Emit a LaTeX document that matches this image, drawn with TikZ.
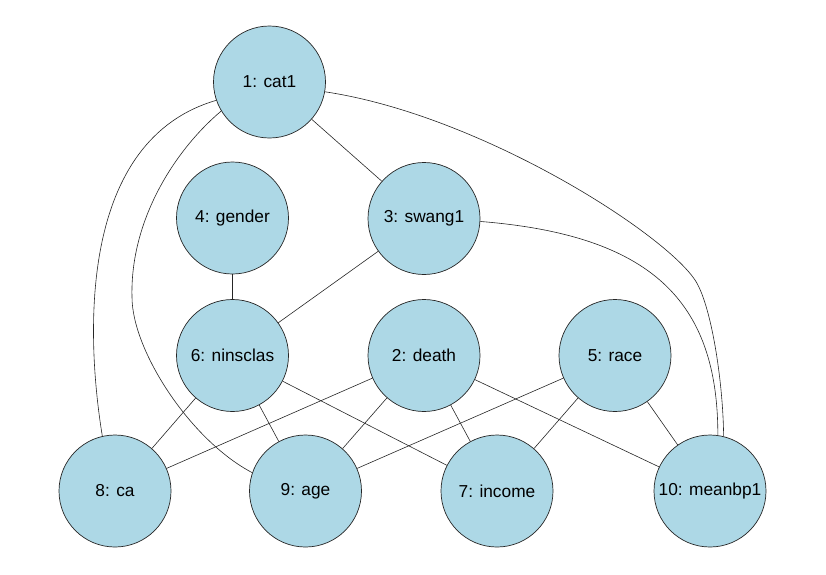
\documentclass[tikz,border=0pt]{standalone}
\usepackage{fontspec}
\setmainfont{Liberation Sans}
\definecolor{nodeblue}{RGB}{173,216,230}
\begin{document}
\begin{tikzpicture}[x=1pt,y=-1pt,
  vnode/.style={circle,draw=black!85,line width=0.7pt,fill=nodeblue,minimum size=112pt,inner sep=0pt,font=\fontsize{17.3}{20}\selectfont},
  edge/.style={draw=black!85,line width=0.6pt}]
\useasboundingbox (0,0) rectangle (826,574);
\node[vnode] (n1) at (269.5,82) {1: cat1};
\node[vnode] (n4) at (232.5,218) {4: gender};
\node[vnode] (n3) at (424,218.5) {3: swang1};
\node[vnode] (n6) at (232.5,355.5) {6: ninsclas};
\node[vnode] (n2) at (424,355.5) {2: death};
\node[vnode] (n5) at (615,355.5) {5: race};
\node[vnode] (n8) at (115,491) {8: ca};
\node[vnode] (n9) at (305.5,491) {9: age};
\node[vnode] (n7) at (497,491) {7: income};
\node[vnode] (n10) at (710,491) {10: meanbp1};
% straight edges
\draw[edge] (n1) -- (n3);
\draw[edge] (n4) -- (n6);
\draw[edge] (n3) -- (n6);
\draw[edge] (n6) -- (n8);
\draw[edge] (n6) -- (n9);
\draw[edge] (n6) -- (n7);
\draw[edge] (n2) -- (n8);
\draw[edge] (n2) -- (n9);
\draw[edge] (n2) -- (n7);
\draw[edge] (n2) -- (n10);
\draw[edge] (n5) -- (n9);
\draw[edge] (n5) -- (n7);
\draw[edge] (n5) -- (n10);
% curved edges
\coordinate (m19) at (132,297);
\coordinate (m110) at (695,280);
\draw[edge] (n1.199) .. controls (80,140) and (85,330) .. (n8.103.5);
\draw[edge] (n1.211) .. controls (175,150) and (130,220) .. (m19)
  .. controls (132,350) and (190,440) .. (n9.161);
\draw[edge] (n1.-10) .. controls (480,115) and (663,232) .. (m110)
  .. controls (711,304) and (723,380) .. (n10.76);
\draw[edge] (n3.-3.6) .. controls (650,235) and (718,300) .. (n10.82.6);
\end{tikzpicture}
\end{document}
